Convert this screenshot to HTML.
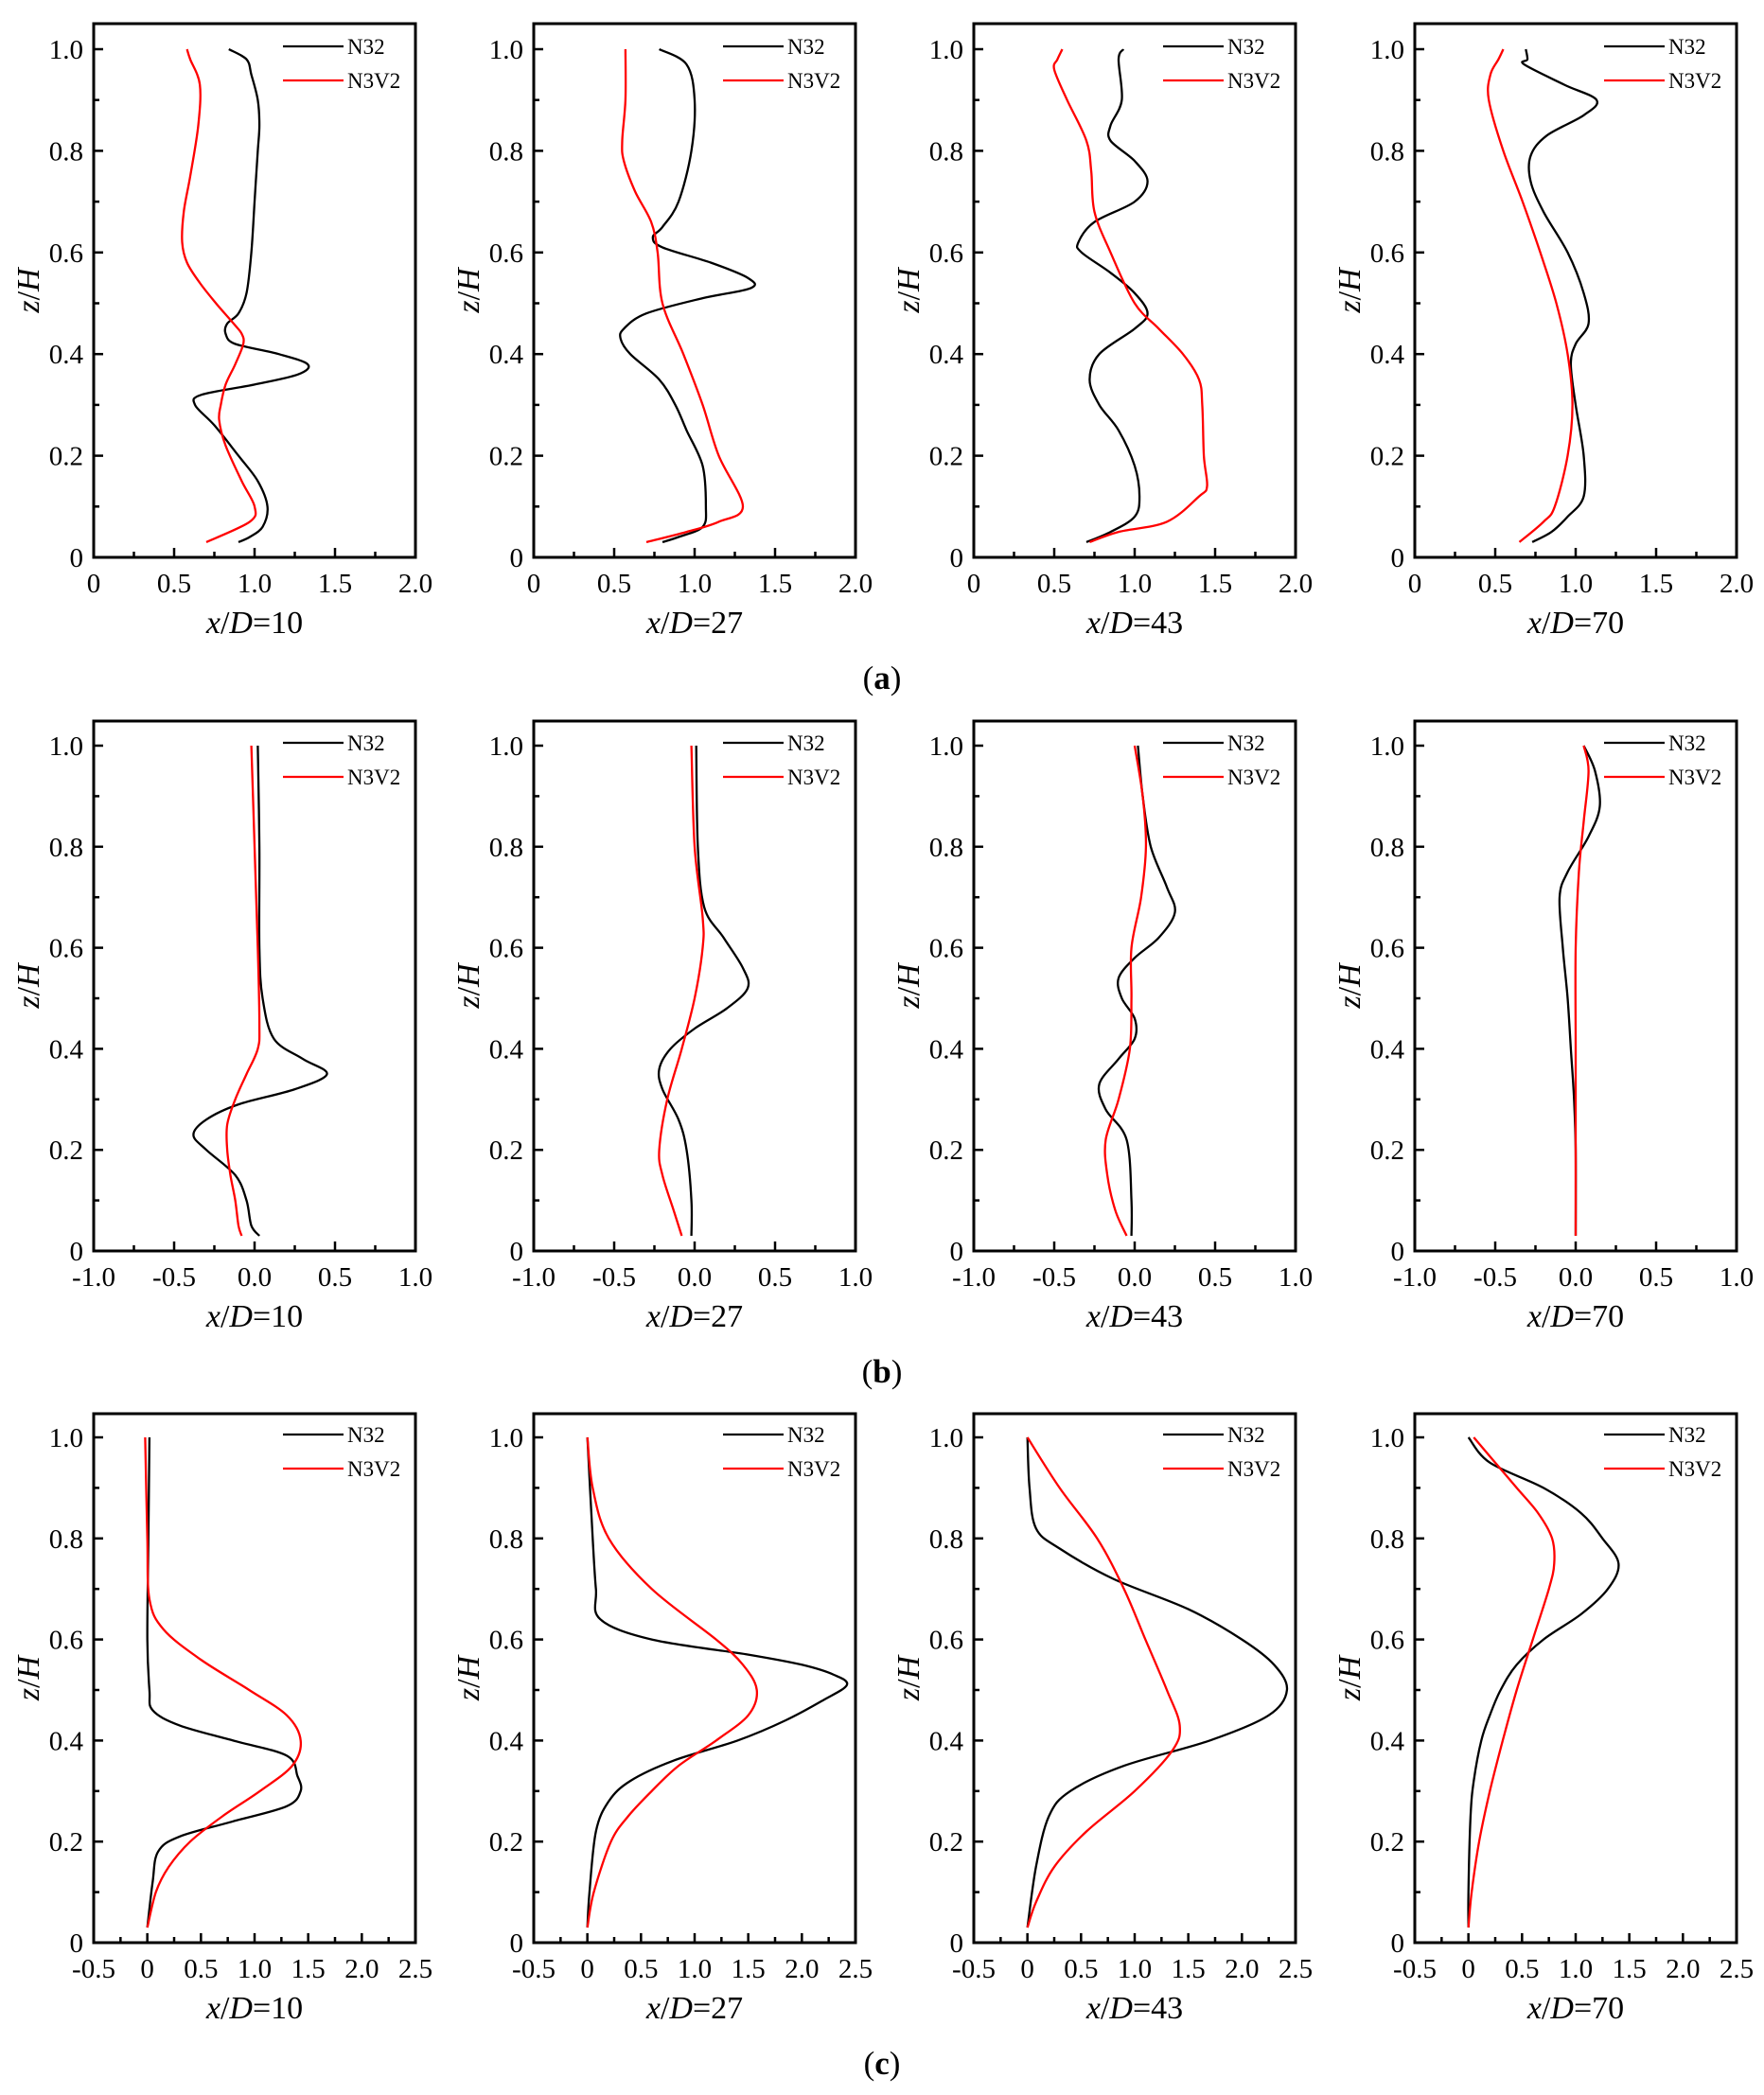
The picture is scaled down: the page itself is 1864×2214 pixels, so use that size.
<!DOCTYPE html>
<html><head><meta charset="utf-8"><style>
body{margin:0;background:#fff}
svg{display:block}
text{font-family:"Liberation Serif",serif;fill:#000}
</style></head><body>
<svg id="fig" width="1864" height="2214" viewBox="0 0 1864 2214" xmlns="http://www.w3.org/2000/svg"></svg>
<script>
const stations = ["10","27","43","70"];
const rowLetters = ["a","b","c"];
const xDomains = [[0,2],[-1,1],[-0.5,2.5]];
const xTickLabels = [["0","0.5","1.0","1.5","2.0"],["-1.0","-0.5","0.0","0.5","1.0"],["-0.5","0","0.5","1.0","1.5","2.0","2.5"]];
const yTickValues = [0,0.2,0.4,0.6,0.8,1.0];
const yTickLabels = ["0","0.2","0.4","0.6","0.8","1.0"];
// each series: flat [z, x, z, x ...]
const a_n32 = [
[1.0,0.84,0.98,0.95,0.95,0.98,0.9,1.02,0.85,1.03,0.8,1.02,0.7,1.0,0.6,0.98,0.52,0.95,0.48,0.9,0.46,0.83,0.44,0.82,0.42,0.88,0.40,1.15,0.38,1.33,0.36,1.27,0.34,1.0,0.32,0.67,0.30,0.63,0.26,0.75,0.2,0.9,0.15,1.02,0.10,1.08,0.06,1.05,0.04,0.97,0.03,0.90],
[1.0,0.78,0.97,0.95,0.9,1.0,0.8,0.98,0.7,0.9,0.65,0.8,0.63,0.74,0.61,0.8,0.58,1.1,0.55,1.33,0.53,1.35,0.51,1.05,0.48,0.7,0.45,0.56,0.43,0.54,0.40,0.6,0.35,0.78,0.30,0.88,0.25,0.95,0.18,1.05,0.10,1.07,0.06,1.05,0.04,0.9,0.03,0.8],
[1.0,0.93,0.98,0.9,0.9,0.92,0.85,0.85,0.82,0.85,0.78,1.0,0.74,1.08,0.70,1.0,0.66,0.75,0.62,0.65,0.60,0.67,0.56,0.85,0.52,1.0,0.48,1.08,0.45,1.0,0.4,0.78,0.35,0.72,0.3,0.78,0.25,0.9,0.18,1.0,0.12,1.03,0.08,1.0,0.05,0.85,0.03,0.7],
[1.0,0.69,0.98,0.7,0.97,0.68,0.93,0.93,0.9,1.13,0.87,1.05,0.83,0.82,0.79,0.72,0.74,0.72,0.68,0.8,0.6,0.95,0.52,1.05,0.46,1.08,0.42,1.0,0.38,0.97,0.3,1.0,0.2,1.05,0.12,1.05,0.08,0.95,0.05,0.85,0.03,0.73]];
const a_n3v2 = [
[1.0,0.58,0.98,0.6,0.93,0.66,0.85,0.65,0.75,0.6,0.68,0.56,0.62,0.55,0.58,0.58,0.54,0.66,0.5,0.76,0.46,0.87,0.44,0.92,0.42,0.93,0.38,0.88,0.34,0.82,0.30,0.79,0.27,0.78,0.22,0.82,0.15,0.92,0.10,1.0,0.07,0.97,0.03,0.7],
[1.0,0.57,0.9,0.57,0.82,0.55,0.78,0.56,0.72,0.63,0.66,0.73,0.6,0.77,0.5,0.8,0.4,0.93,0.3,1.05,0.2,1.15,0.1,1.3,0.07,1.15,0.05,0.95,0.03,0.7],
[1.0,0.55,0.98,0.52,0.96,0.5,0.9,0.58,0.82,0.7,0.76,0.73,0.68,0.75,0.6,0.85,0.5,1.0,0.45,1.15,0.4,1.3,0.35,1.4,0.3,1.42,0.2,1.43,0.14,1.45,0.12,1.4,0.07,1.2,0.05,0.9,0.03,0.72],
[1.0,0.55,0.98,0.52,0.95,0.47,0.9,0.46,0.8,0.55,0.7,0.67,0.6,0.78,0.5,0.88,0.4,0.95,0.3,0.98,0.2,0.95,0.1,0.87,0.07,0.8,0.03,0.65]];
const b_n32 = [
[1.0,0.02,0.8,0.03,0.6,0.03,0.5,0.05,0.42,0.12,0.38,0.3,0.35,0.45,0.32,0.25,0.29,-0.1,0.26,-0.3,0.23,-0.38,0.2,-0.3,0.15,-0.12,0.1,-0.05,0.05,-0.02,0.03,0.03],
[1.0,0.01,0.8,0.02,0.68,0.06,0.62,0.18,0.56,0.3,0.52,0.33,0.48,0.2,0.44,0.0,0.4,-0.15,0.36,-0.22,0.32,-0.2,0.26,-0.1,0.2,-0.05,0.1,-0.02,0.03,-0.02],
[1.0,0.02,0.9,0.05,0.8,0.1,0.72,0.2,0.67,0.25,0.62,0.15,0.58,0.0,0.54,-0.1,0.5,-0.08,0.46,0.0,0.42,0.0,0.38,-0.1,0.33,-0.22,0.28,-0.18,0.22,-0.05,0.1,-0.02,0.03,-0.02],
[1.0,0.05,0.95,0.12,0.88,0.15,0.82,0.08,0.75,-0.05,0.7,-0.1,0.6,-0.08,0.5,-0.05,0.4,-0.03,0.3,-0.01,0.2,0.0,0.03,0.0]];
const b_n3v2 = [
[1.0,-0.02,0.8,0.0,0.6,0.02,0.45,0.03,0.4,0.02,0.35,-0.05,0.3,-0.12,0.25,-0.17,0.2,-0.17,0.15,-0.15,0.1,-0.12,0.05,-0.1,0.03,-0.08],
[1.0,-0.02,0.8,0.0,0.66,0.05,0.6,0.05,0.5,0.0,0.4,-0.08,0.3,-0.17,0.2,-0.22,0.15,-0.2,0.08,-0.13,0.03,-0.08],
[1.0,0.0,0.9,0.05,0.8,0.07,0.7,0.04,0.6,-0.02,0.5,-0.02,0.4,-0.03,0.3,-0.1,0.22,-0.18,0.15,-0.17,0.08,-0.12,0.03,-0.05],
[1.0,0.05,0.95,0.08,0.85,0.05,0.75,0.02,0.6,0.0,0.4,0.0,0.2,0.0,0.03,0.0]];
const c_n32 = [
[1.0,0.02,0.8,0.01,0.6,0.0,0.5,0.02,0.46,0.05,0.43,0.3,0.4,0.8,0.37,1.3,0.33,1.4,0.3,1.43,0.27,1.3,0.24,0.8,0.21,0.3,0.18,0.1,0.12,0.05,0.03,0.0],
[1.0,0.0,0.8,0.05,0.7,0.08,0.64,0.12,0.6,0.6,0.57,1.5,0.55,2.0,0.53,2.3,0.51,2.42,0.48,2.2,0.44,1.85,0.4,1.4,0.36,0.8,0.32,0.4,0.28,0.2,0.22,0.08,0.1,0.02,0.03,0.0],
[1.0,0.0,0.9,0.02,0.82,0.08,0.78,0.3,0.72,0.8,0.66,1.5,0.6,2.0,0.55,2.3,0.5,2.42,0.45,2.25,0.4,1.7,0.35,0.9,0.3,0.4,0.25,0.2,0.15,0.08,0.03,0.0],
[1.0,0.0,0.95,0.2,0.9,0.7,0.85,1.05,0.8,1.25,0.75,1.4,0.7,1.3,0.65,1.05,0.6,0.7,0.55,0.45,0.5,0.3,0.45,0.2,0.4,0.12,0.32,0.05,0.25,0.02,0.1,0.0,0.03,0.0]];
const c_n3v2 = [
[1.0,-0.02,0.8,0.0,0.68,0.02,0.62,0.15,0.56,0.5,0.5,0.95,0.45,1.3,0.4,1.43,0.35,1.35,0.3,1.05,0.25,0.7,0.2,0.4,0.15,0.2,0.1,0.08,0.03,0.0],
[1.0,0.0,0.9,0.05,0.8,0.2,0.7,0.6,0.6,1.2,0.55,1.45,0.5,1.58,0.45,1.5,0.4,1.2,0.35,0.85,0.3,0.6,0.25,0.38,0.2,0.22,0.1,0.06,0.03,0.0],
[1.0,0.0,0.9,0.3,0.8,0.65,0.7,0.9,0.6,1.1,0.5,1.3,0.43,1.42,0.38,1.35,0.3,1.0,0.22,0.55,0.15,0.25,0.08,0.08,0.03,0.0],
[1.0,0.05,0.95,0.25,0.9,0.45,0.85,0.65,0.8,0.78,0.75,0.8,0.7,0.75,0.6,0.6,0.5,0.45,0.4,0.32,0.3,0.2,0.2,0.1,0.1,0.03,0.03,0.0]];
const seriesN32 = [a_n32,b_n32,c_n32];
const seriesN3V2 = [a_n3v2,b_n3v2,c_n3v2];

const NS="http://www.w3.org/2000/svg";
const svg=document.getElementById('fig');
const colLeft=[99,564,1029,1495], W=340;
const rowGeo=[{top:25,y1:52,y0:589},{top:762,y1:788,y0:1322},{top:1494,y1:1519,y0:2053}];
function mk(tag,attrs,parent){const e=document.createElementNS(NS,tag);for(const k in attrs)e.setAttribute(k,attrs[k]);(parent||svg).appendChild(e);return e;}
function smooth(P){
  let d='M'+P[0][0].toFixed(1)+','+P[0][1].toFixed(1);
  for(let i=0;i<P.length-1;i++){
    const p0=P[Math.max(i-1,0)],p1=P[i],p2=P[i+1],p3=P[Math.min(i+2,P.length-1)];
    const t=0.5/3;
    const c1=[p1[0]+(p2[0]-p0[0])*t,p1[1]+(p2[1]-p0[1])*t];
    const c2=[p2[0]-(p3[0]-p1[0])*t,p2[1]-(p3[1]-p1[1])*t];
    d+=' C'+c1[0].toFixed(1)+','+c1[1].toFixed(1)+' '+c2[0].toFixed(1)+','+c2[1].toFixed(1)+' '+p2[0].toFixed(1)+','+p2[1].toFixed(1);
  }
  return d;
}

rowLetters.forEach((letter,r)=>{
  const g=rowGeo[r];
  const [d0,d1]=xDomains[r];
  stations.forEach((st,c)=>{
    const L=colLeft[c];
    const xs=v=>L+(v-d0)/(d1-d0)*W;
    const ys=v=>g.y0-(v)*(g.y0-g.y1);
    const grp=mk('g',{});
    
    
    for(let v=d0;v<=d1+1e-9;v+=0.25){
      const major=Math.abs((v-d0)/0.5-Math.round((v-d0)/0.5))<1e-6;
      const t=mk('line',{x1:xs(v),x2:xs(v),y1:g.y0,y2:g.y0-(major?10:6),stroke:'#000','stroke-width':2.5},grp);
      
      
    }
    for(let i=0;i<=10;i++){
      const v=i*0.1;const major=i%2===0;
      const t=mk('line',{x1:L,x2:L+(major?10:6),y1:ys(v),y2:ys(v),stroke:'#000','stroke-width':2.5},grp);
      
      
    }
    xTickLabels[r].forEach((lab,i)=>{
      const t=mk('text',{x:xs(d0+i*0.5),y:g.y0+37,'text-anchor':'middle','font-size':29},grp);
      t.textContent=lab;
      
      
    });
    yTickValues.forEach((v,i)=>{
      const t=mk('text',{x:L-11,y:ys(v)+10,'text-anchor':'end','font-size':29},grp);
      t.textContent=yTickLabels[i];
      
      
    });
    const yt=mk('text',{x:0,y:0,'text-anchor':'middle','font-size':34,transform:`translate(${L-58},${(g.top+g.y0)/2}) rotate(-90)`},grp);
    yt.innerHTML='<tspan font-style="italic">z</tspan>/<tspan font-style="italic">H</tspan>';
    
    
    const xt=mk('text',{x:L+W/2,y:g.y0+80,'text-anchor':'middle','font-size':34},grp);
    xt.innerHTML='<tspan font-style="italic">x</tspan>/<tspan font-style="italic">D</tspan>='+st;
    
    
    [[seriesN32[r][c],'#000','n32'],[seriesN3V2[r][c],'#f00','n3v2']].forEach(([arr,col,nm])=>{
      let pts=[];
      for(let i=0;i<arr.length;i+=2)pts.push([xs(arr[i+1]),ys(arr[i])]);
      const p=mk('path',{d:smooth(pts),fill:'none',stroke:col,'stroke-width':2.3,'stroke-linejoin':'round'},grp);
      
      
    });
    const lg=mk('g',{},grp);
    
    
    [['N32','#000',g.y1-3],['N3V2','#f00',g.y1+33]].forEach(([lab,col,y])=>{
      mk('line',{x1:L+200,x2:L+264,y1:y,y2:y,stroke:col,'stroke-width':2.3},lg);
      const t=mk('text',{x:L+268,y:y+8,'font-size':23},lg);
      t.textContent=lab;
      
      
    });
    const frame=mk('rect',{x:L,y:g.top,width:W,height:g.y0-g.top,fill:'none',stroke:'#000','stroke-width':3},grp);
    
    
  });
  const pl=mk('text',{x:932,y:g.y0+139,'text-anchor':'middle','font-size':35});
  pl.innerHTML='(<tspan font-weight="bold">'+letter+'</tspan>)';
  
  
});
</script>
</body></html>
